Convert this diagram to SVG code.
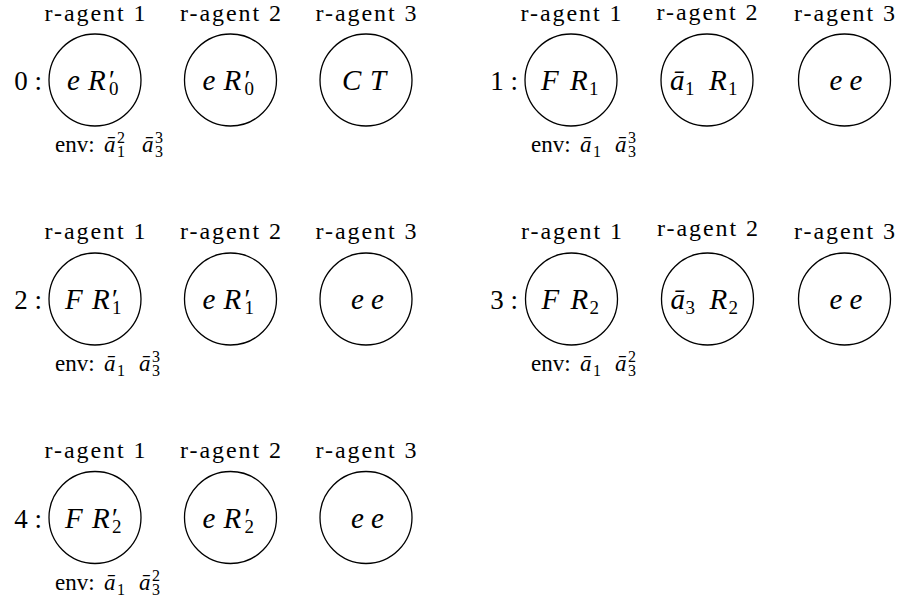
<svg xmlns="http://www.w3.org/2000/svg" width="900" height="605" viewBox="0 0 900 605">
<style>
text,tspan{font-family:"Liberation Serif","Times New Roman","DejaVu Serif",serif;fill:#000}
.lbl{font-size:24px;text-anchor:middle}
.in{font-size:29px;font-style:italic}
.sb{font-size:19px;font-style:normal}
.pr{font-size:27px;font-style:normal}
.step{font-size:27px;text-anchor:end}
.env{font-size:23px}
.ei{font-style:italic}
.es{font-size:16px}
circle{fill:#fff;stroke:#000;stroke-width:1.3}
</style>
<rect width="900" height="605" fill="#fff"/>
<g id="connectors"/>

<!-- step 0 -->
<g id="step0">
  <text class="step" x="42" y="90">0 :</text>
  <g id="s0-agent1" transform="translate(95,80)">
    <text class="lbl" y="-59" textLength="101" lengthAdjust="spacing">r-agent 1</text>
    <circle r="46"/>
    <text class="in"><tspan x="-28" y="10">e</tspan><tspan x="-7" y="10">R</tspan><tspan class="pr" x="14" y="9">′</tspan><tspan class="sb" x="14" y="15">0</tspan></text>
  </g>
  <g id="s0-agent2" transform="translate(230.5,80)">
    <text class="lbl" y="-59" textLength="101" lengthAdjust="spacing">r-agent 2</text>
    <circle r="46"/>
    <text class="in"><tspan x="-28" y="10">e</tspan><tspan x="-7" y="10">R</tspan><tspan class="pr" x="14" y="9">′</tspan><tspan class="sb" x="14" y="15">0</tspan></text>
  </g>
  <g id="s0-agent3" transform="translate(366,80)">
    <text class="lbl" y="-59" textLength="101" lengthAdjust="spacing">r-agent 3</text>
    <circle r="46"/>
    <text class="in"><tspan x="-24" y="10">C</tspan><tspan x="4" y="10">T</tspan></text>
  </g>
  <text class="env" y="152"><tspan x="55">env:</tspan><tspan class="ei" x="104">ā</tspan><tspan class="es" x="117" y="143">2</tspan><tspan class="es" x="117" y="157">1</tspan><tspan class="ei" x="142" y="152">ā</tspan><tspan class="es" x="155" y="143">3</tspan><tspan class="es" x="155" y="157">3</tspan></text>
</g>

<!-- step 1 -->
<g id="step1">
  <text class="step" x="518" y="90">1 :</text>
  <g id="s1-agent1" transform="translate(571,80)">
    <text class="lbl" y="-59" textLength="101" lengthAdjust="spacing">r-agent 1</text>
    <circle r="46"/>
    <text class="in"><tspan x="-30" y="10">F</tspan><tspan x="-1" y="10">R</tspan><tspan class="sb" x="18" y="15">1</tspan></text>
  </g>
  <g id="s1-agent2" transform="translate(707,80)">
    <text class="lbl" y="-60.5" textLength="101" lengthAdjust="spacing">r-agent 2</text>
    <circle r="46"/>
    <text class="in"><tspan x="-37" y="10">ā</tspan><tspan class="sb" x="-22" y="15">1</tspan><tspan x="2" y="10">R</tspan><tspan class="sb" x="21" y="15">1</tspan></text>
  </g>
  <g id="s1-agent3" transform="translate(844.5,80)">
    <text class="lbl" y="-59" textLength="101" lengthAdjust="spacing">r-agent 3</text>
    <circle r="46"/>
    <text class="in"><tspan x="-15" y="10">e</tspan><tspan x="5" y="10">e</tspan></text>
  </g>
  <text class="env" y="152"><tspan x="531">env:</tspan><tspan class="ei" x="580">ā</tspan><tspan class="es" x="593" y="157">1</tspan><tspan class="ei" x="615" y="152">ā</tspan><tspan class="es" x="628" y="143">3</tspan><tspan class="es" x="628" y="157">3</tspan></text>
</g>

<!-- step 2 -->
<g id="step2">
  <text class="step" x="42" y="309">2 :</text>
  <g id="s2-agent1" transform="translate(95,299)">
    <text class="lbl" y="-60" textLength="101" lengthAdjust="spacing">r-agent 1</text>
    <circle r="46"/>
    <text class="in"><tspan x="-30" y="10">F</tspan><tspan x="-3" y="10">R</tspan><tspan class="pr" x="17" y="9">′</tspan><tspan class="sb" x="17" y="15">1</tspan></text>
  </g>
  <g id="s2-agent2" transform="translate(230.5,299)">
    <text class="lbl" y="-60" textLength="101" lengthAdjust="spacing">r-agent 2</text>
    <circle r="46"/>
    <text class="in"><tspan x="-28" y="10">e</tspan><tspan x="-7" y="10">R</tspan><tspan class="pr" x="14" y="9">′</tspan><tspan class="sb" x="14" y="15">1</tspan></text>
  </g>
  <g id="s2-agent3" transform="translate(366,299)">
    <text class="lbl" y="-60" textLength="101" lengthAdjust="spacing">r-agent 3</text>
    <circle r="46"/>
    <text class="in"><tspan x="-15" y="10">e</tspan><tspan x="5" y="10">e</tspan></text>
  </g>
  <text class="env" y="371"><tspan x="55">env:</tspan><tspan class="ei" x="104">ā</tspan><tspan class="es" x="117" y="376">1</tspan><tspan class="ei" x="139" y="371">ā</tspan><tspan class="es" x="152" y="362">3</tspan><tspan class="es" x="152" y="376">3</tspan></text>
</g>

<!-- step 3 -->
<g id="step3">
  <text class="step" x="518" y="309">3 :</text>
  <g id="s3-agent1" transform="translate(571.5,299)">
    <text class="lbl" y="-60" textLength="101" lengthAdjust="spacing">r-agent 1</text>
    <circle r="46"/>
    <text class="in"><tspan x="-30" y="10">F</tspan><tspan x="-1" y="10">R</tspan><tspan class="sb" x="18" y="15">2</tspan></text>
  </g>
  <g id="s3-agent2" transform="translate(707.5,299)">
    <text class="lbl" y="-63" textLength="101" lengthAdjust="spacing">r-agent 2</text>
    <circle r="46"/>
    <text class="in"><tspan x="-37" y="10">ā</tspan><tspan class="sb" x="-22" y="15">3</tspan><tspan x="2" y="10">R</tspan><tspan class="sb" x="21" y="15">2</tspan></text>
  </g>
  <g id="s3-agent3" transform="translate(844.5,299)">
    <text class="lbl" y="-60" textLength="101" lengthAdjust="spacing">r-agent 3</text>
    <circle r="46"/>
    <text class="in"><tspan x="-15" y="10">e</tspan><tspan x="5" y="10">e</tspan></text>
  </g>
  <text class="env" y="371"><tspan x="531">env:</tspan><tspan class="ei" x="580">ā</tspan><tspan class="es" x="593" y="376">1</tspan><tspan class="ei" x="615" y="371">ā</tspan><tspan class="es" x="628" y="362">2</tspan><tspan class="es" x="628" y="376">3</tspan></text>
</g>

<!-- step 4 -->
<g id="step4">
  <text class="step" x="42" y="527.5">4 :</text>
  <g id="s4-agent1" transform="translate(95,517.5)">
    <text class="lbl" y="-60" textLength="101" lengthAdjust="spacing">r-agent 1</text>
    <circle r="46"/>
    <text class="in"><tspan x="-30" y="10">F</tspan><tspan x="-3" y="10">R</tspan><tspan class="pr" x="17" y="9">′</tspan><tspan class="sb" x="17" y="15">2</tspan></text>
  </g>
  <g id="s4-agent2" transform="translate(230.5,517.5)">
    <text class="lbl" y="-60" textLength="101" lengthAdjust="spacing">r-agent 2</text>
    <circle r="46"/>
    <text class="in"><tspan x="-28" y="10">e</tspan><tspan x="-7" y="10">R</tspan><tspan class="pr" x="14" y="9">′</tspan><tspan class="sb" x="14" y="15">2</tspan></text>
  </g>
  <g id="s4-agent3" transform="translate(366,517.5)">
    <text class="lbl" y="-60" textLength="101" lengthAdjust="spacing">r-agent 3</text>
    <circle r="46"/>
    <text class="in"><tspan x="-15" y="10">e</tspan><tspan x="5" y="10">e</tspan></text>
  </g>
  <text class="env" y="589.5"><tspan x="55">env:</tspan><tspan class="ei" x="104">ā</tspan><tspan class="es" x="117" y="594.5">1</tspan><tspan class="ei" x="139" y="589.5">ā</tspan><tspan class="es" x="152" y="580.5">2</tspan><tspan class="es" x="152" y="594.5">3</tspan></text>
</g>
</svg>
